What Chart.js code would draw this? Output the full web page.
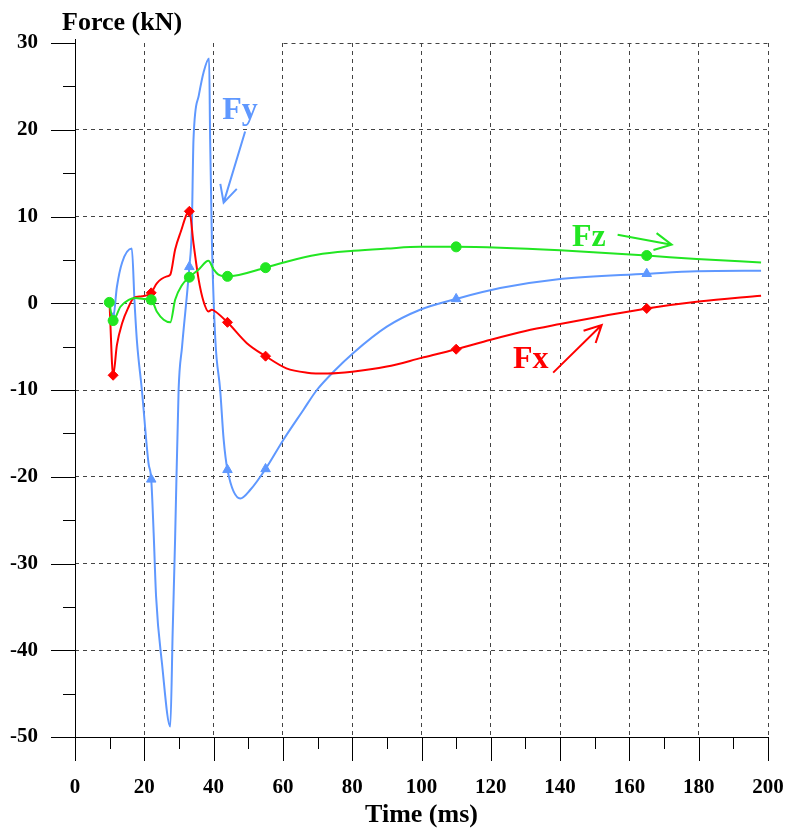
<!DOCTYPE html>
<html>
<head>
<meta charset="utf-8">
<title>Force vs time</title>
<script src="https://cdn.jsdelivr.net/npm/chart.js@4.4.1/dist/chart.umd.min.js"></script>
<style>
  html, body { margin: 0; padding: 0; background: #fff; }
  #wrap { width: 790px; height: 832px; }
</style>
</head>
<body>
<div id="wrap"><canvas id="forceChart" width="790" height="832"></canvas></div>
<script>
// values (time in ms, force in kN)
const fxTime  = [10, 11, 12.1, 13.6, 15.5, 16.9, 19.3, 22, 23.6, 26.5, 27.5, 28.9, 30.4, 33, 34.2, 35.7, 37.1, 38.5, 39.5, 40.5, 44, 49.6, 55, 61, 67, 73, 80, 90, 100, 110, 120, 130, 140, 152, 165, 180, 198];
const fxForce = [-0.3, -8.3, -4.8, -2.3, -0.4, 0.6, 0.8, 1.2, 2.3, 3.1, 3.3, 6.2, 8.1, 10.6, 6.9, 2.7, 0.2, -0.95, -0.75, -0.95, -2.2, -4.6, -6.1, -7.5, -8.0, -8.1, -7.9, -7.3, -6.3, -5.3, -4.2, -3.2, -2.4, -1.5, -0.6, 0.2, 0.87];

const fyTime  = [10.2, 11, 12.1, 13.6, 16.4, 17.2, 17.9, 19.3, 21.2, 22, 22.7, 23.4, 25.1, 27.5, 28.2, 28.9, 29.9, 30.9, 33, 33.7, 34.2, 35.7, 37.1, 38.7, 39.0, 39.5, 40.5, 41.9, 42.9, 44, 47.7, 50.6, 55, 60.2, 65.9, 69.8, 74.6, 80.4, 90, 99.6, 110, 122.7, 140, 165, 179.4, 198];
const fyForce = [-1.0, -1.7, 1.9, 4.7, 6.3, 0, -4.5, -10, -18.4, -20.3, -26.5, -33.8, -41.5, -48.8, -37.7, -27.0, -10, -5.0, 4.2, 8.5, 18.9, 23.9, 26.6, 28.2, 18.9, 7.3, -4.2, -10, -15.7, -19.2, -22.5, -21.5, -19.1, -15.7, -12.3, -10, -7.9, -5.7, -2.7, -0.75, 0.5, 1.75, 2.8, 3.4, 3.7, 3.75];

const fzTime  = [9.9, 11, 13.1, 15.5, 17.4, 19.8, 22, 23.6, 25.6, 27.5, 28.9, 30.9, 33, 35.7, 38.5, 40, 41.4, 44, 55, 60.2, 69.8, 80.4, 90, 99.6, 110, 122.7, 140, 165, 179.4, 198];
const fzForce = [0.1, -2.0, -0.4, 0.4, 0.6, 0.5, 0.4, -0.95, -1.9, -2.2, 0.4, 2.1, 3.0, 3.9, 4.9, 3.9, 3.3, 3.1, 4.1, 4.7, 5.6, 6.05, 6.3, 6.5, 6.5, 6.4, 6.1, 5.5, 5.1, 4.7];

// times where a marker sits on each curve
const fxMarks = [11, 22, 33, 44, 55, 110, 165];
const fyMarks = [11, 22, 33, 44, 55, 110, 165];
const fzMarks = [9.9, 11, 22, 33, 44, 55, 110, 165];

const timeTicks  = [0, 20, 40, 60, 80, 100, 120, 140, 160, 180, 200];
const forceTicks = [-50, -40, -30, -20, -10, 0, 10, 20, 30];

const RED = '#ff0000';
const GREEN = '#22e622';
const BLUE = '#5f98ff';
const FONT = '"Liberation Serif", "Times New Roman", serif';

// curve labels with their arrows, in data units
const notes = [
  { text: 'Fy', color: BLUE,  at: [42.5, 21.2],  from: [49.1, 19.8],  to: [42.9, 11.6] },
  { text: 'Fz', color: GREEN, at: [143.4, 6.55], from: [156.6, 7.9],  to: [172.2, 6.75] },
  { text: 'Fx', color: RED,   at: [126.4, -7.5], from: [138.0, -8.0], to: [152.0, -2.5] }
];

const toPoints = (t, v) => t.map((x, i) => ({ x: x, y: v[i] }));
const markRadius = (marks, r) => ctx => (ctx.raw && marks.includes(ctx.raw.x)) ? r : 0;

function series(label, t, v, marks, color, style, r) {
  return {
    label: label,
    data: toPoints(t, v),
    borderColor: color,
    backgroundColor: color,
    borderWidth: 2,
    pointStyle: style,
    pointRadius: markRadius(marks, r),
    pointBorderWidth: 1,
    pointBorderColor: color,
    pointBackgroundColor: color,
    cubicInterpolationMode: 'monotone',
    showLine: true,
    fill: false
  };
}

const crisp = p => Math.round(p) + 0.5;

const framePlugin = {
  id: 'frame',
  beforeDatasetsDraw(chart) {
    const { ctx, chartArea: a, scales: { x, y } } = chart;
    ctx.save();
    // top grid line only runs from 60 ms on
    ctx.strokeStyle = '#444';
    ctx.lineWidth = 1;
    ctx.setLineDash([4, 4]);
    ctx.beginPath();
    ctx.moveTo(crisp(x.getPixelForValue(60)), crisp(a.top));
    ctx.lineTo(crisp(a.right), crisp(a.top));
    ctx.stroke();

    ctx.setLineDash([]);
    ctx.strokeStyle = '#000';
    ctx.beginPath();
    ctx.moveTo(crisp(a.left), a.top - 4);
    ctx.lineTo(crisp(a.left), crisp(a.bottom));
    ctx.lineTo(crisp(a.right), crisp(a.bottom));
    ctx.stroke();

    // major and minor tick marks
    ctx.beginPath();
    forceTicks.forEach((v, i) => {
      const py = crisp(y.getPixelForValue(v));
      ctx.moveTo(a.left - 24, py); ctx.lineTo(a.left, py);
      if (i > 0) {
        const pm = crisp(y.getPixelForValue((v + forceTicks[i - 1]) / 2));
        ctx.moveTo(a.left - 12, pm); ctx.lineTo(a.left, pm);
      }
    });
    timeTicks.forEach((t, i) => {
      const px = crisp(x.getPixelForValue(t));
      ctx.moveTo(px, a.bottom); ctx.lineTo(px, a.bottom + 24);
      if (i > 0) {
        const pm = crisp(x.getPixelForValue((t + timeTicks[i - 1]) / 2));
        ctx.moveTo(pm, a.bottom); ctx.lineTo(pm, a.bottom + 12);
      }
    });
    ctx.stroke();

    // axis titles
    ctx.fillStyle = '#000';
    ctx.font = 'bold 26px ' + FONT;
    ctx.textBaseline = 'alphabetic';
    ctx.textAlign = 'left';
    ctx.fillText('Force (kN)', 62, 30);
    ctx.textAlign = 'center';
    ctx.fillText('Time (ms)', (a.left + a.right) / 2, 822);
    ctx.restore();
  },
  afterDatasetsDraw(chart) {
    const { ctx, scales: { x, y } } = chart;
    ctx.save();
    notes.forEach(n => {
      ctx.fillStyle = n.color;
      ctx.strokeStyle = n.color;
      ctx.lineWidth = 2;
      ctx.font = 'bold 32px ' + FONT;
      ctx.textAlign = 'left';
      ctx.textBaseline = 'alphabetic';
      ctx.fillText(n.text, x.getPixelForValue(n.at[0]), y.getPixelForValue(n.at[1]));

      const x0 = x.getPixelForValue(n.from[0]), y0 = y.getPixelForValue(n.from[1]);
      const x1 = x.getPixelForValue(n.to[0]), y1 = y.getPixelForValue(n.to[1]);
      const ang = Math.atan2(y0 - y1, x0 - x1);
      const head = 19, spread = 0.47;
      ctx.beginPath();
      ctx.moveTo(x0, y0);
      ctx.lineTo(x1, y1);
      ctx.moveTo(x1 + head * Math.cos(ang - spread), y1 + head * Math.sin(ang - spread));
      ctx.lineTo(x1, y1);
      ctx.lineTo(x1 + head * Math.cos(ang + spread), y1 + head * Math.sin(ang + spread));
      ctx.stroke();
    });
    ctx.restore();
  }
};

const tickFont = { family: FONT, size: 21, weight: 'bold' };

new Chart(document.getElementById('forceChart'), {
  type: 'scatter',
  data: {
    datasets: [
      series('Fz', fzTime, fzForce, fzMarks, GREEN, 'circle', 5),
      series('Fx', fxTime, fxForce, fxMarks, RED, 'rectRot', 5),
      series('Fy', fyTime, fyForce, fyMarks, BLUE, 'triangle', 5.5)
    ]
  },
  options: {
    responsive: false,
    animation: false,
    devicePixelRatio: 1,
    layout: { padding: { top: 43, right: 22, left: 0, bottom: 0 } },
    plugins: { legend: { display: false }, tooltip: { enabled: false } },
    scales: {
      x: {
        type: 'linear',
        min: 0,
        max: 200,
        afterBuildTicks: s => { s.ticks = timeTicks.map(v => ({ value: v })); },
        afterFit: s => { s.height = 95; },
        ticks: { color: '#000', font: tickFont, padding: 2, maxRotation: 0 },
        grid: { color: '#444', lineWidth: 1, drawTicks: true, tickLength: 36, tickColor: 'rgba(0,0,0,0)' },
        border: { display: false, dash: [4, 4] }
      },
      y: {
        type: 'linear',
        min: -50,
        max: 30,
        afterBuildTicks: s => { s.ticks = forceTicks.map(v => ({ value: v })); },
        afterFit: s => { s.width = 75; },
        ticks: { color: '#000', font: tickFont, padding: 2 },
        grid: {
          color: c => (c.tick && c.tick.value === 30) ? 'rgba(0,0,0,0)' : '#444',
          lineWidth: 1,
          drawTicks: true,
          tickLength: 35,
          tickColor: 'rgba(0,0,0,0)'
        },
        border: { display: false, dash: [4, 4] }
      }
    }
  },
  plugins: [framePlugin]
});
</script>
</body>
</html>
